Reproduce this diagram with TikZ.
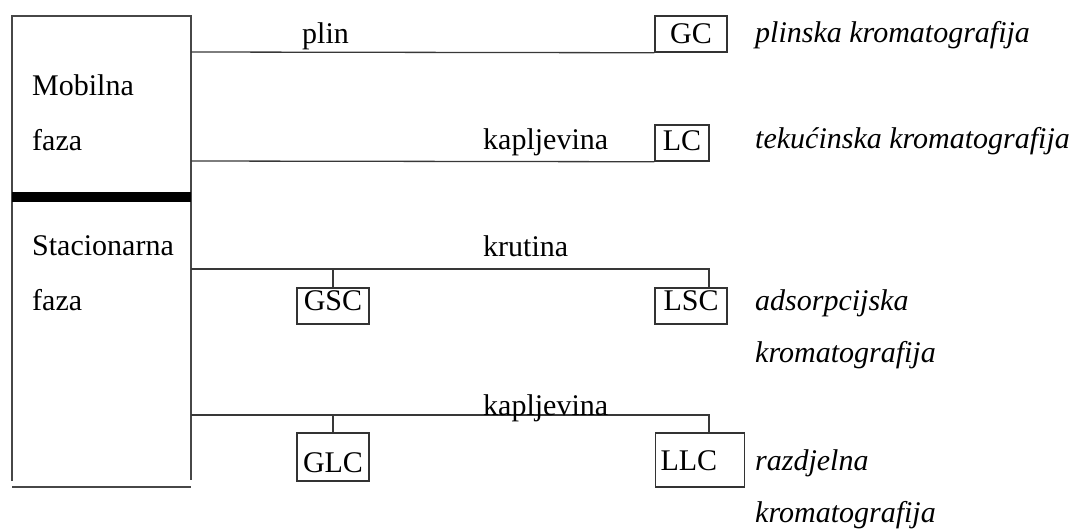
\documentclass[tikz,border=0pt]{standalone}
\usepackage{fontspec}
\setmainfont{Liberation Serif}
\begin{document}
\begin{tikzpicture}[x=1pt,y=-1pt,
  every node/.style={font=\fontsize{30}{36}\selectfont, inner sep=0pt},
  conn/.style={draw=black!78, line width=1.3pt},
  frame/.style={draw=black!72, line width=1.6pt},
  box/.style={draw=black!80, line width=1.5pt, anchor=base, inner xsep=0pt, inner ysep=0pt},
  lbl/.style={anchor=base west},
  method/.style={anchor=base west, font=\fontsize{30}{36}\selectfont\itshape}]
\useasboundingbox (0,0) rectangle (1075,528);
% left frame (mobile / stationary phase)
\coordinate (tl) at (12,16);
\coordinate (tr) at (191,16);
\coordinate (bl) at (12,481);
\coordinate (br) at (191,480);
\coordinate (bbl) at (12,487);
\coordinate (bbr) at (191,487);
\draw[frame] (bl) -- (tl) -- (tr) -- (br);
\draw[frame] (bbl) -- (bbr);
\fill[black] (12,192) rectangle (191,202);
\node[lbl] (mob) at (32,95) {Mobilna};
\node[lbl] (mobf) at (32,150) {faza};
\node[lbl] (sta) at (32,255) {Stacionarna};
\node[lbl] (staf) at (32,310) {faza};
% method boxes
\node[box, minimum width=72pt, text height=27pt, text depth=9pt] (GC) at (691,43) {GC};
\node[box, minimum width=54pt, text height=25pt, text depth=11pt] (LC) at (682,150) {LC};
\node[box, minimum width=72pt, text height=22pt, text depth=14pt] (GSC) at (333,310) {GSC};
\node[box, minimum width=72pt, text height=22pt, text depth=14pt] (LSC) at (691,310) {LSC};
\node[box, minimum width=72pt, text height=39pt, text depth=9pt] (GLC) at (333,472) {GLC};
\node[box, minimum width=89pt, text width=79pt, align=left, text height=37pt, text depth=17pt] (LLC) at (700,470) {LLC};
% connectors
\coordinate (p1) at (191,52);
\coordinate (p2) at (191,161);
\coordinate (p3) at (191,269);
\coordinate (t3) at (709,269);
\coordinate (p4) at (191,415);
\coordinate (t4) at (709,415);
\draw[conn] (p1) -- (GC.south west);
\draw[conn] (p2) -- (LC.south west);
\draw[conn] (p3) -- (t3) -- (t3 |- LSC.north);
\draw[conn] (GSC.north) -- (GSC.north |- p3);
\draw[conn] (p4) -- (t4) -- (t4 |- LLC.north);
\draw[conn] (GLC.north) -- (GLC.north |- p4);
% connector labels
\node[lbl] (lplin) at (302,43) {plin};
\node[lbl] (lkap1) at (483,149) {kapljevina};
\node[lbl] (lkrut) at (483,256) {krutina};
\node[lbl] (lkap2) at (483,415) {kapljevina};
% method names
\node[method] (m1) at (755,42) {plinska kromatografija};
\node[method] (m2) at (755,148) {tekućinska kromatografija};
\node[method] (m3a) at (755,310) {adsorpcijska};
\node[method] (m3b) at (755,362) {kromatografija};
\node[method] (m4a) at (755,470) {razdjelna};
\node[method] (m4b) at (755,522) {kromatografija};
\end{tikzpicture}
\end{document}
